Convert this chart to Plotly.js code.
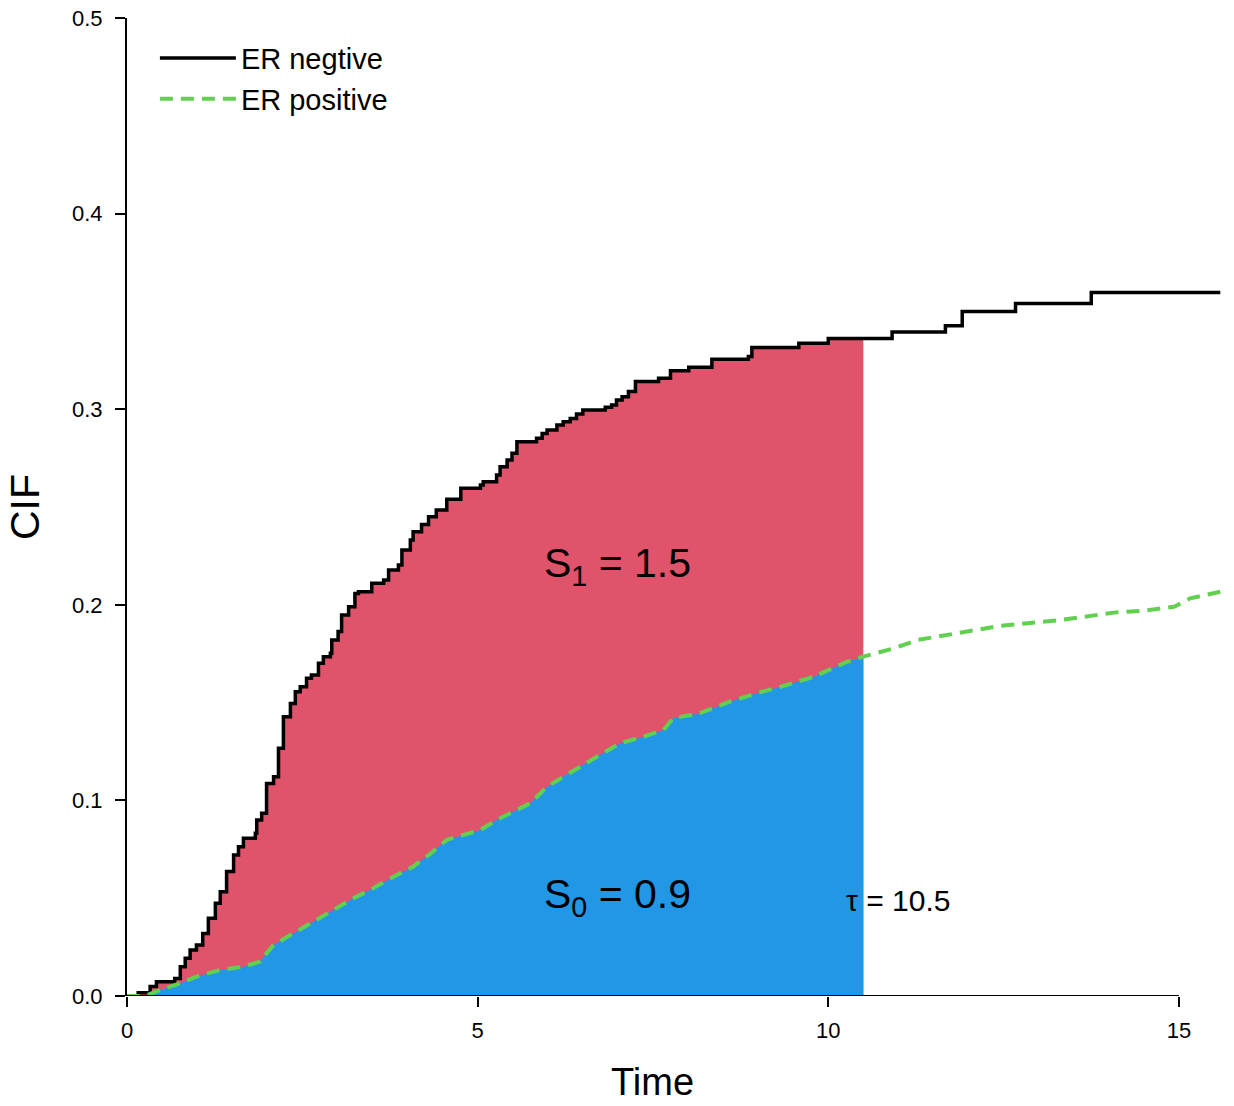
<!DOCTYPE html>
<html>
<head>
<meta charset="utf-8">
<script src="https://cdn.plot.ly/plotly-3.0.1.min.js"></script>
<style>
  body { margin: 0; background: #fff; }
  #plot { width: 1234px; height: 1106px; }
</style>
</head>
<body>
<div id="plot"></div>
<script>
// CIF of ER negative / ER positive, areas under the curves up to tau

const negTime = [0, 0.16, 0.33, 0.42, 0.68, 0.76, 0.83, 0.90, 0.99, 1.08, 1.16, 1.26, 1.33, 1.42,
  1.52, 1.59, 1.66, 1.83, 1.85, 1.92, 1.99, 2.09, 2.16, 2.23, 2.33, 2.40, 2.47, 2.56, 2.63, 2.73,
  2.80, 2.90, 2.92, 3.01, 3.06, 3.16, 3.25, 3.30, 3.49, 3.66, 3.73, 3.87, 3.92, 4.04, 4.08, 4.20,
  4.30, 4.41, 4.56, 4.76, 5.04, 5.08, 5.27, 5.32, 5.42, 5.49, 5.56, 5.84, 5.92, 5.99, 6.13, 6.22,
  6.32, 6.41, 6.50, 6.82, 6.91, 6.98, 7.06, 7.15, 7.25, 7.58, 7.75, 8.01, 8.34, 8.86, 8.91, 9.58,
  10.0, 10.91, 11.67, 11.91, 12.67, 13.75, 15.59];
const negCIF = [0, 0.0017, 0.0048, 0.0073, 0.009, 0.015, 0.0193, 0.0235, 0.0261, 0.032, 0.0397,
  0.0474, 0.0533, 0.0636, 0.0721, 0.0763, 0.0806, 0.0832, 0.090, 0.0934, 0.1087, 0.1121, 0.1266,
  0.1428, 0.1496, 0.1556, 0.1581, 0.1624, 0.1641, 0.1701, 0.1735, 0.1752, 0.182, 0.1863, 0.1948,
  0.199, 0.2058, 0.2067, 0.211, 0.2127, 0.2178, 0.2203, 0.228, 0.2331, 0.2374, 0.241, 0.245,
  0.2485, 0.2539, 0.2596, 0.2612, 0.2629, 0.2664, 0.2706, 0.274, 0.2775, 0.2834, 0.2851, 0.2876,
  0.2894, 0.2919, 0.2936, 0.2953, 0.2975, 0.2996, 0.301, 0.3021, 0.3047, 0.3064, 0.309, 0.3141,
  0.3158, 0.3197, 0.3214, 0.3255, 0.3269, 0.3316, 0.3337, 0.3362, 0.3395, 0.3427, 0.350, 0.3541,
  0.3597, 0.3597];

const posTime = [0, 0.26, 0.42, 0.76, 0.99, 1.33, 1.66, 1.90, 1.99, 2.09, 2.37, 2.66, 2.94, 3.23,
  3.51, 3.80, 4.08, 4.30, 4.56, 5.04, 5.27, 5.75, 5.99, 6.37, 6.70, 7.03, 7.37, 7.65, 7.79, 8.17,
  8.60, 8.98, 9.32, 9.79, 10.27, 10.50, 10.93, 11.27, 11.69, 12.07, 12.45, 13.31, 13.69, 14.07,
  14.50, 14.93, 15.16, 15.54, 15.59];
const posCIF = [0, 0, 0.0024, 0.0065, 0.0099, 0.0133, 0.015, 0.0176, 0.0218, 0.0261, 0.032, 0.038,
  0.044, 0.050, 0.0551, 0.061, 0.0661, 0.072, 0.0798, 0.0849, 0.090, 0.0985, 0.107, 0.1155,
  0.1223, 0.1292, 0.1326, 0.136, 0.142, 0.1446, 0.1505, 0.1548, 0.1581, 0.1632, 0.1709, 0.1735,
  0.1777, 0.182, 0.1846, 0.1871, 0.1892, 0.1922, 0.1939, 0.196, 0.197, 0.199, 0.2033, 0.2067,
  0.2067];

const tau = 10.5;
const seriesNames = ['ER negtive', 'ER positive'];
const xTicks = [0, 5, 10, 15];
const yTicks = [0, 0.1, 0.2, 0.3, 0.4, 0.5];

const FONT = 'Liberation Sans, Arial, sans-serif';

// keep points up to tau and close the curve at tau
function clip(ts, ys, limit) {
  const t = [], y = [];
  for (let i = 0; i < ts.length && ts[i] <= limit; i++) {
    t.push(ts[i]);
    y.push(ys[i]);
  }
  if (t[t.length - 1] < limit) {
    t.push(limit);
    y.push(y[y.length - 1]);
  }
  return { t, y };
}

const negClip = clip(negTime, negCIF, tau);
const posClip = clip(posTime, posCIF, tau);

const data = [
  {
    x: negClip.t, y: negClip.y,
    type: 'scatter', mode: 'lines',
    line: { shape: 'hv', width: 0, color: '#DF536B' },
    fill: 'tozeroy', fillcolor: '#DF536B',
    hoverinfo: 'skip', showlegend: false,
  },
  {
    x: posClip.t, y: posClip.y,
    type: 'scatter', mode: 'lines',
    line: { shape: 'linear', width: 0, color: '#2297E6' },
    fill: 'tozeroy', fillcolor: '#2297E6',
    hoverinfo: 'skip', showlegend: false,
  },
  {
    x: negTime, y: negCIF,
    name: seriesNames[0],
    type: 'scatter', mode: 'lines',
    line: { shape: 'hv', width: 3.5, color: '#000000' },
  },
  {
    x: posTime, y: posCIF,
    name: seriesNames[1],
    type: 'scatter', mode: 'lines',
    line: { shape: 'linear', width: 4, color: '#61D04F', dash: '13px,8px' },
  },
];

const layout = {
  width: 1234,
  height: 1106,
  margin: { l: 127, r: 13, t: 18, b: 110 },
  paper_bgcolor: '#ffffff',
  plot_bgcolor: '#ffffff',
  font: { family: FONT, color: '#000000' },
  showlegend: true,
  legend: {
    x: 0.0255, y: 0.985, xanchor: 'left', yanchor: 'top',
    font: { size: 29, family: FONT },
    bgcolor: 'rgba(0,0,0,0)',
    itemwidth: 76,
    tracegroupgap: 0,
  },
  xaxis: {
    range: [0, 15.6],
    tickvals: xTicks,
    ticks: 'outside', ticklen: 10, tickwidth: 2, tickcolor: '#000',
    tickfont: { size: 22, family: FONT },
    ticklabelstandoff: 5,
    showline: false, showgrid: false, zeroline: false,
  },
  yaxis: {
    range: [0, 0.5],
    tickvals: yTicks,
    tickformat: '.1f',
    ticks: 'outside', ticklen: 10, tickwidth: 2, tickcolor: '#000',
    tickfont: { size: 22, family: FONT },
    ticklabelstandoff: 8,
    showline: true, linewidth: 2, linecolor: '#000',
    showgrid: false, zeroline: false,
    title: { text: 'CIF', font: { size: 41, family: FONT }, standoff: 20 },
  },
  shapes: [
    {
      type: 'line', xref: 'x', yref: 'y',
      x0: xTicks[0], x1: xTicks[xTicks.length - 1], y0: 0, y1: 0,
      line: { color: '#000', width: 2 },
      layer: 'above',
    },
  ],
  annotations: [
    {
      x: 0.48, y: 0, xref: 'paper', yref: 'paper', yshift: -86,
      xanchor: 'center', yanchor: 'middle',
      text: 'Time', showarrow: false,
      font: { size: 38, family: FONT, color: '#000' },
    },
    {
      x: 7.0, y: 0.22, xref: 'x', yref: 'y',
      text: 'S<sub>1</sub> = 1.5', showarrow: false,
      font: { size: 41, family: FONT, color: '#000' },
    },
    {
      x: 7.0, y: 0.0506, xref: 'x', yref: 'y',
      text: 'S<sub>0</sub> = 0.9', showarrow: false,
      font: { size: 41, family: FONT, color: '#000' },
    },
    {
      x: 11.0, y: 0.049, xref: 'x', yref: 'y',
      text: 'τ = ' + tau, showarrow: false,
      font: { size: 30, family: FONT, color: '#000' },
    },
  ],
};

Plotly.newPlot('plot', data, layout, { staticPlot: true });
</script>
</body>
</html>
